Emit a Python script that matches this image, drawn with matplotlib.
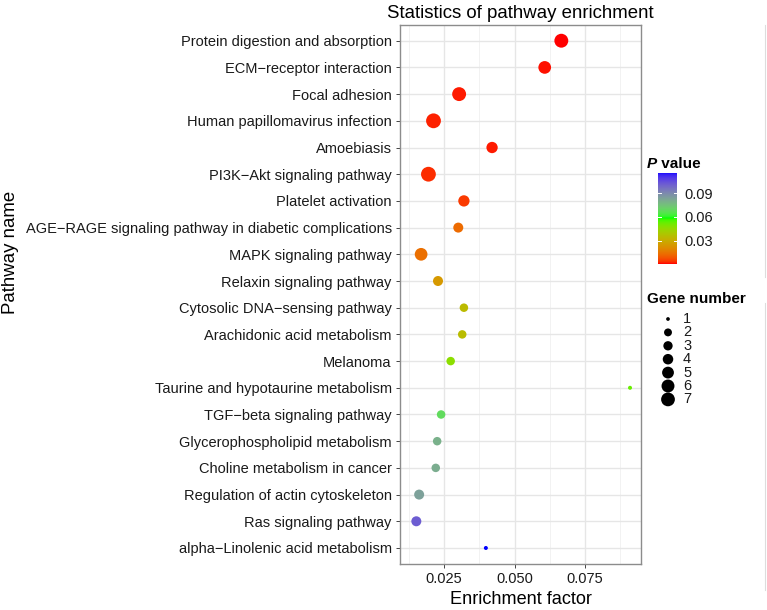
import numpy as np
import matplotlib
matplotlib.use("Agg")
import matplotlib.pyplot as plt
from matplotlib.colors import ListedColormap, Normalize

plt.rcParams['font.family'] = ['Liberation Sans', 'DejaVu Sans']

pathways = ["Protein digestion and absorption", "ECM\u2212receptor interaction", "Focal adhesion",
            "Human papillomavirus infection", "Amoebiasis", "PI3K\u2212Akt signaling pathway",
            "Platelet activation", "AGE\u2212RAGE signaling pathway in diabetic complications",
            "MAPK signaling pathway", "Relaxin signaling pathway", "Cytosolic DNA\u2212sensing pathway",
            "Arachidonic acid metabolism", "Melanoma", "Taurine and hypotaurine metabolism",
            "TGF\u2212beta signaling pathway", "Glycerophospholipid metabolism",
            "Choline metabolism in cancer", "Regulation of actin cytoskeleton",
            "Ras signaling pathway", "alpha\u2212Linolenic acid metabolism"]
enrichment = [0.0666, 0.0607, 0.0303, 0.0212, 0.0420, 0.0194, 0.0320, 0.0300, 0.0168, 0.0228,
              0.0320, 0.0314, 0.0273, 0.0910, 0.0239, 0.0225, 0.0220, 0.0161, 0.0151, 0.0398]
genes = [6, 5, 6, 7, 4, 7, 4, 3, 5, 3, 2, 2, 2, 1, 2, 2, 2, 3, 3, 1]
pvalues = [0.0002, 0.0008, 0.0012, 0.002, 0.0015, 0.0025, 0.004, 0.012, 0.013, 0.024,
           0.034, 0.035, 0.046, 0.052, 0.068, 0.079, 0.080, 0.083, 0.101, 0.116]
p_ticks = [0.03, 0.06, 0.09]
gene_levels = [1, 2, 3, 4, 5, 6, 7]
# point diameter (px) for each gene number
level_diam = [4.0, 8.5, 10.0, 11.3, 12.7, 13.9, 14.8]


# ggplot-like gradient red -> green -> blue interpolated in Lab
def rgb2lab(c):
    c = np.asarray(c, float)
    lin = np.where(c <= 0.04045, c / 12.92, ((c + 0.055) / 1.055) ** 2.4)
    M = np.array([[0.4124, 0.3576, 0.1805], [0.2126, 0.7152, 0.0722], [0.0193, 0.1192, 0.9505]])
    xyz = lin @ M.T / np.array([0.95047, 1.0, 1.08883])
    f = np.where(xyz > 0.008856, np.cbrt(xyz), 7.787 * xyz + 16 / 116)
    return np.stack([116 * f[..., 1] - 16, 500 * (f[..., 0] - f[..., 1]), 200 * (f[..., 1] - f[..., 2])], -1)


def lab2rgb(lab):
    L, a, b = lab[..., 0], lab[..., 1], lab[..., 2]
    fy = (L + 16) / 116
    f = np.stack([fy + a / 500, fy, fy - b / 200], -1)
    xyz = np.where(f ** 3 > 0.008856, f ** 3, (f - 16 / 116) / 7.787) * np.array([0.95047, 1.0, 1.08883])
    Mi = np.array([[3.2406, -1.5372, -0.4986], [-0.9689, 1.8758, 0.0415], [0.0557, -0.2040, 1.0570]])
    lin = np.clip(xyz @ Mi.T, 0, 1)
    c = np.where(lin <= 0.0031308, 12.92 * lin, 1.055 * lin ** (1 / 2.4) - 0.055)
    return np.clip(c, 0, 1)


anchors = rgb2lab([[1, 0, 0], [0, 1, 0], [0, 0, 1]])
t = np.linspace(0, 1, 256)
labs = np.array([np.interp(t, [0, 0.5, 1], anchors[:, k]) for k in range(3)]).T
cmap = ListedColormap(lab2rgb(labs))
norm = Normalize(min(pvalues), max(pvalues))


def diam_pt(n):
    return np.array([level_diam[gene_levels.index(k)] for k in np.atleast_1d(n)]) * 72 / 100


fig = plt.figure(figsize=(7.67, 6.10), dpi=100)
ax = fig.add_axes([400 / 767, 1 - 564 / 610, 241 / 767, (564 - 24.7) / 610])

y = np.arange(len(pathways))[::-1]
ax.scatter(enrichment, y, s=diam_pt(genes) ** 2, c=pvalues, cmap=cmap, norm=norm,
           linewidths=0, zorder=3)

ax.set_ylim(-0.6, len(pathways) - 0.4)
ax.set_xlim(0.0093, 0.0949)
ax.set_yticks(y)
ax.set_yticklabels(pathways)
ax.set_xticks([0.025, 0.050, 0.075])
ax.set_xticklabels(["0.025", "0.050", "0.075"])
ax.set_xticks([0.0125, 0.0375, 0.0625, 0.0875], minor=True)
ax.tick_params(axis='both', which='major', labelsize=10.5, colors='#1A1A1A', length=3, width=0.7,
               color='#444444', pad=3)
ax.tick_params(axis='x', which='minor', length=0)
ax.grid(True, which='major', color='#E6E6E6', linewidth=1.0, zorder=0)
ax.grid(True, which='minor', axis='x', color='#F0F0F0', linewidth=0.6, zorder=0)
ax.set_axisbelow(True)
for sp in ax.spines.values():
    sp.set_color('#8C8C8C')
    sp.set_linewidth(1.0)

ax.set_title("Statistics of pathway enrichment", fontsize=13.4, pad=5)
ax.set_xlabel("Enrichment factor", fontsize=13.1, labelpad=3)
fig.text(0.003, 1 - 252 / 610, "Pathway name", rotation=90, fontsize=13.4, va='center', ha='left')

# colour legend
cax = fig.add_axes([658 / 767, 1 - 264 / 610, 19 / 767, (264 - 172.7) / 610])
grad = np.linspace(min(pvalues), max(pvalues), 200).reshape(-1, 1)
cax.imshow(grad, aspect='auto', origin='lower', cmap=cmap, norm=norm,
           extent=[0, 1, min(pvalues), max(pvalues)])
cax.set_xticks([])
cax.yaxis.tick_right()
cax.set_yticks(p_ticks)
cax.set_yticklabels([str(v) for v in p_ticks])
cax.tick_params(axis='y', length=0, labelsize=10.5, colors='#1A1A1A', pad=5)
for v in p_ticks:
    cax.plot([0, 0.18], [v, v], color='white', lw=0.7)
    cax.plot([0.82, 1], [v, v], color='white', lw=0.7)
cax.set_xlim(0, 1)
for sp in cax.spines.values():
    sp.set_visible(False)

tp = fig.text(647 / 767, 1 - 168 / 610, "P", fontsize=11, weight='bold', style='italic')
ax.annotate(" value", xy=(1, 0), xycoords=tp, fontsize=11, weight='bold', va='bottom')

# size legend, drawn on a pixel overlay
lax = fig.add_axes([0, 0, 1, 1])
lax.set_xlim(0, 767)
lax.set_ylim(610, 0)
lax.axis('off')
lax.text(647, 299, "Gene number", fontsize=11, weight='bold', va='center', ha='left')
key_y = 319 + 13.4 * np.arange(len(gene_levels))
lax.scatter([668] * len(gene_levels), key_y, s=(diam_pt(gene_levels) * 0.93) ** 2,
            color='black', linewidths=0)
for ky, n in zip(key_y, gene_levels):
    lax.text(683, ky, str(n), fontsize=10.5, va='center', ha='left', color='#1A1A1A')

lax.plot([765, 765], [25, 277], color='#DDDDDD', lw=0.8)
lax.plot([765, 765], [303, 590], color='#DDDDDD', lw=0.8)

fig.savefig("out.png", dpi=100)
